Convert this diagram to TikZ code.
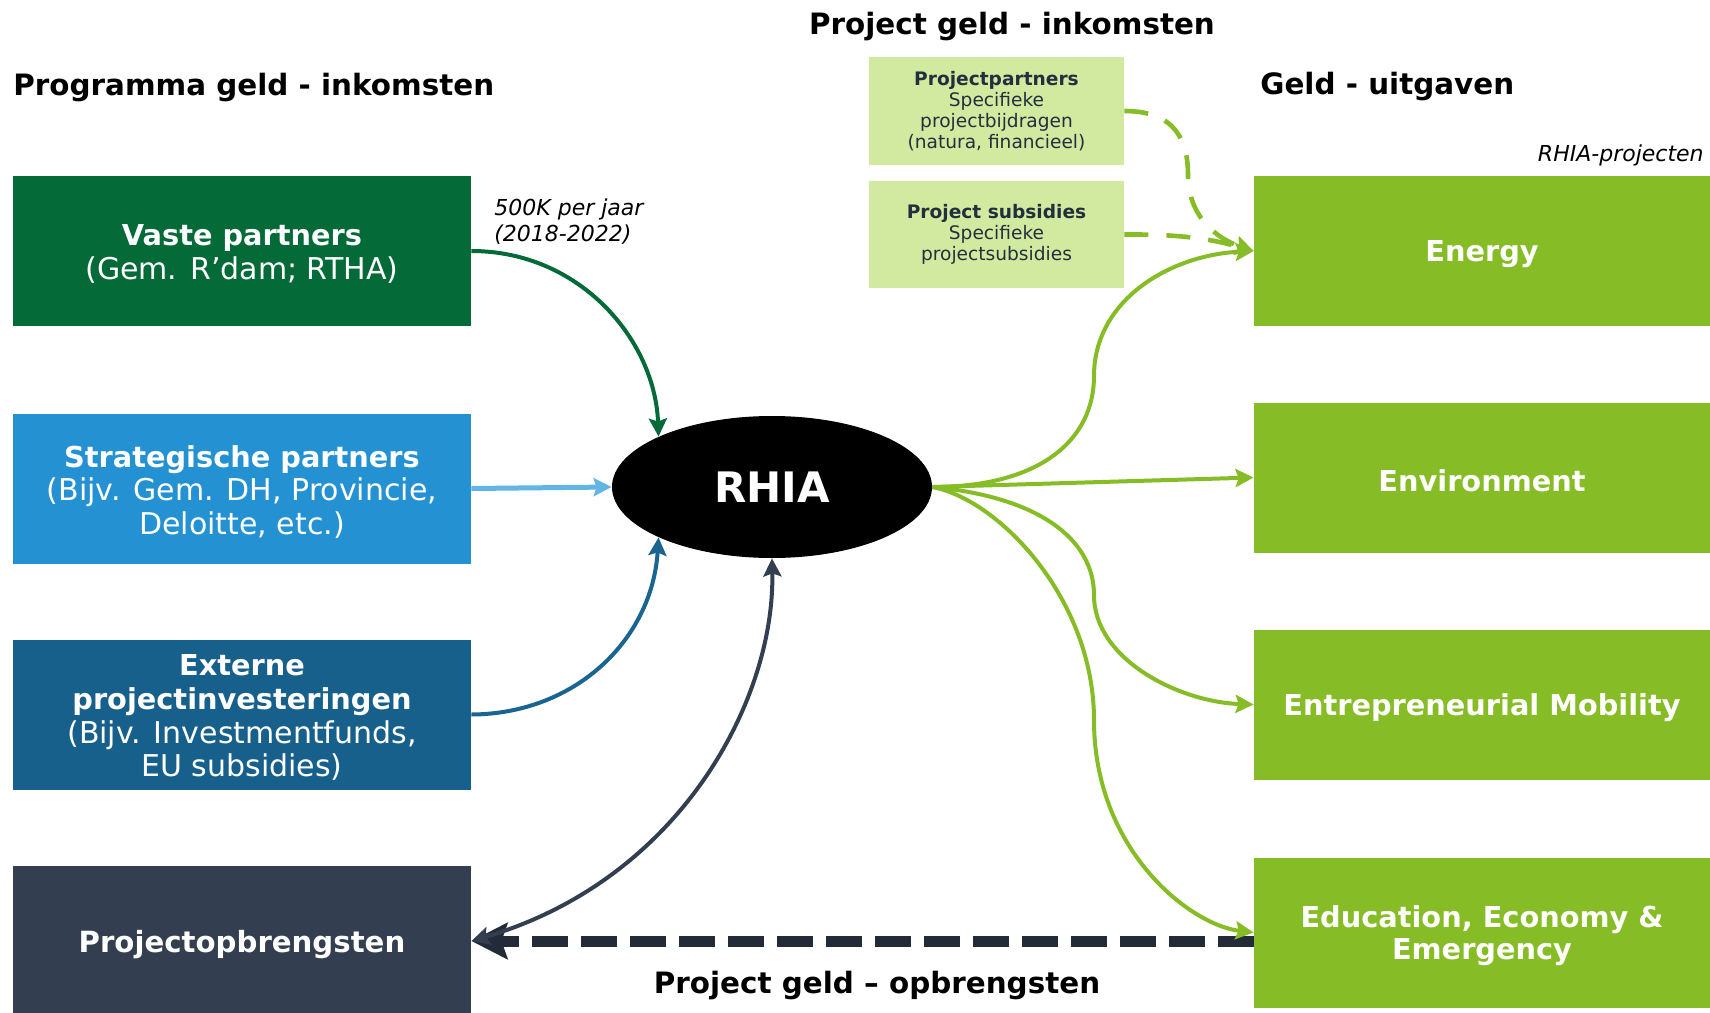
\documentclass[tikz,border=0pt]{standalone}
\usepackage{fontspec}
\setmainfont{DejaVu Sans}
\usetikzlibrary{arrows.meta,shapes.geometric}
\definecolor{cvaste}{HTML}{046A38}
\definecolor{cstrat}{HTML}{2491D3}
\definecolor{cext}{HTML}{17608C}
\definecolor{cnavy}{HTML}{333F50}
\definecolor{cgreen}{HTML}{86BC25}
\definecolor{cpale}{HTML}{D1EAA0}
\definecolor{cptext}{HTML}{232F3E}
\definecolor{clblue}{HTML}{62B5E5}
\definecolor{cextarrow}{HTML}{1A6492}
\definecolor{cdash}{HTML}{232B38}
\tikzset{
  boxshape/.style={rectangle, minimum width=229pt, minimum height=75pt, inner sep=0pt},
  btext/.style={text=white, align=center, yshift=-1.6pt, inner sep=0pt, font=\fontsize{15}{16.8}\selectfont},
  rbox/.style={rectangle, fill=cgreen, minimum width=228pt, minimum height=75pt, inner sep=0pt},
  rtext/.style={text=white, align=center, yshift=-1.6pt, inner sep=0pt, font=\bfseries\fontsize{14.4}{16}\selectfont},
  pbox/.style={rectangle, fill=cpale, minimum width=127.5pt, minimum height=54pt, inner sep=0pt,
    text=cptext, align=center, font=\fontsize{9.3}{10.5}\selectfont},
  head/.style={inner sep=0pt, font=\bfseries\fontsize{14.7}{17}\selectfont},
  note/.style={inner sep=0pt, font=\itshape\fontsize{11}{13}\selectfont},
  arr/.style={-{Stealth[length=9pt,width=9pt,inset=1.5pt]}},
  greenarrow/.style={draw=cgreen, line width=2pt, -{Stealth[length=9pt,width=9pt,inset=1.5pt]}},
  greendash/.style={draw=cgreen, line width=2.3pt, dash pattern=on 12pt off 9pt, -{Stealth[length=9pt,width=9pt,inset=1.5pt]}},
}
\newcommand{\bt}[1]{{\bfseries\fontsize{14.4}{16.8}\selectfont #1}}
\begin{document}
\begin{tikzpicture}[x=0.5pt,y=-0.5pt]
\useasboundingbox (0,0) rectangle (1710,1013);

% headings
\node[head, anchor=west] (h1) at (13,87) {Programma geld - inkomsten};
\node[head] (h2) at (1012,26) {Project geld - inkomsten};
\node[head, anchor=west] (h3) at (1260,86) {Geld - uitgaven};
\node[head] (h4) at (877,985) {Project geld – opbrengsten};
\node[note, anchor=west, align=left] (n1) at (494,222) {500K per jaar\\(2018-2022)};
\node[note, anchor=east] (n2) at (1704,155) {RHIA-projecten};

% left boxes
\node[boxshape, fill=cvaste, label={[btext]center:{\bt{Vaste partners}\\(Gem. R’dam; RTHA)}}] (vp) at (242,251) {};
\node[boxshape, fill=cstrat, label={[btext]center:{\bt{Strategische partners}\\(Bijv. Gem. DH, Provincie,\\Deloitte, etc.)}}] (sp) at (242,488.5) {};
\node[boxshape, fill=cext, label={[btext]center:{\bt{Externe}\\\bt{projectinvesteringen}\\(Bijv. Investmentfunds,\\EU subsidies)}}] (ep) at (242,714.5) {};
\node[boxshape, fill=cnavy, label={[btext, font=\bfseries\fontsize{14.6}{16.8}\selectfont]center:Projectopbrengsten}] (pob) at (242,941) {};

% right boxes
\node[rbox, label={[rtext]center:Energy}] (en) at (1482,251) {};
\node[rbox, label={[rtext]center:Environment}] (env) at (1482,477.5) {};
\node[rbox, label={[rtext]center:Entrepreneurial Mobility}] (ent) at (1482,704.5) {};
\node[rbox, label={[rtext]center:{Education, Economy \&\\Emergency}}] (edu) at (1482,932.5) {};

% pale boxes
\node[pbox] (pp) at (996.5,111) {{\bfseries Projectpartners}\\Specifieke\\projectbijdragen\\(natura, financieel)};
\node[pbox, minimum height=53.5pt] (ps) at (996.5,234.5) {{\bfseries Project subsidies}\\Specifieke\\projectsubsidies};

% center
\node[ellipse, fill=black, minimum width=160pt, minimum height=71pt, inner sep=0pt,
      text=white, font=\bfseries\fontsize{21}{24}\selectfont] (rhia) at (772,487) {RHIA};

% incoming
\draw[cvaste, line width=2pt, arr] (vp.east) .. controls (580,251) and (655,340) .. (rhia.north west);
\draw[clblue, line width=2.5pt, arr] (sp.east) -- (rhia.west);
\draw[cextarrow, line width=2pt, arr] (ep.east) .. controls (575,714) and (652,640) .. (rhia.south west);

% dashed bottom
\coordinate (dstart) at (edu.west |- pob.east);
\draw[cdash, line width=5.5pt, dash pattern=on 18pt off 6.5pt, -{Stealth[length=18pt,width=18pt,inset=3pt]}] (dstart) -- (pob.east);

% double arrow
\draw[cnavy, line width=2pt, {Stealth[length=9pt,width=9pt,inset=1.5pt]}-{Stealth[length=9pt,width=9pt,inset=1.5pt]}]
  (pob.east) .. controls (680,880) and (775,700) .. (rhia.south);

% outgoing green
\draw[greenarrow] (rhia.east) .. controls (1040,487) and (1094,440) .. (1094,376) .. controls (1094,300) and (1170,255) .. (en.west);
\draw[greenarrow] (rhia.east) -- (env.west);
\draw[greenarrow] (rhia.east) .. controls (1040,497) and (1094,540) .. (1094,595) .. controls (1094,660) and (1180,702) .. (ent.west);
\draw[greenarrow] (rhia.east) .. controls (1000,500) and (1094,600) .. (1094,720) .. controls (1094,850) and (1190,925) .. (edu.west);

% dashed green
\draw[greendash] (pp.east) .. controls (1175,111) and (1188,140) .. (1188,175) .. controls (1188,215) and (1215,238) .. (en.west);
\draw[greendash] (ps.east) .. controls (1185,234) and (1215,240) .. (en.west);
\end{tikzpicture}
\end{document}
